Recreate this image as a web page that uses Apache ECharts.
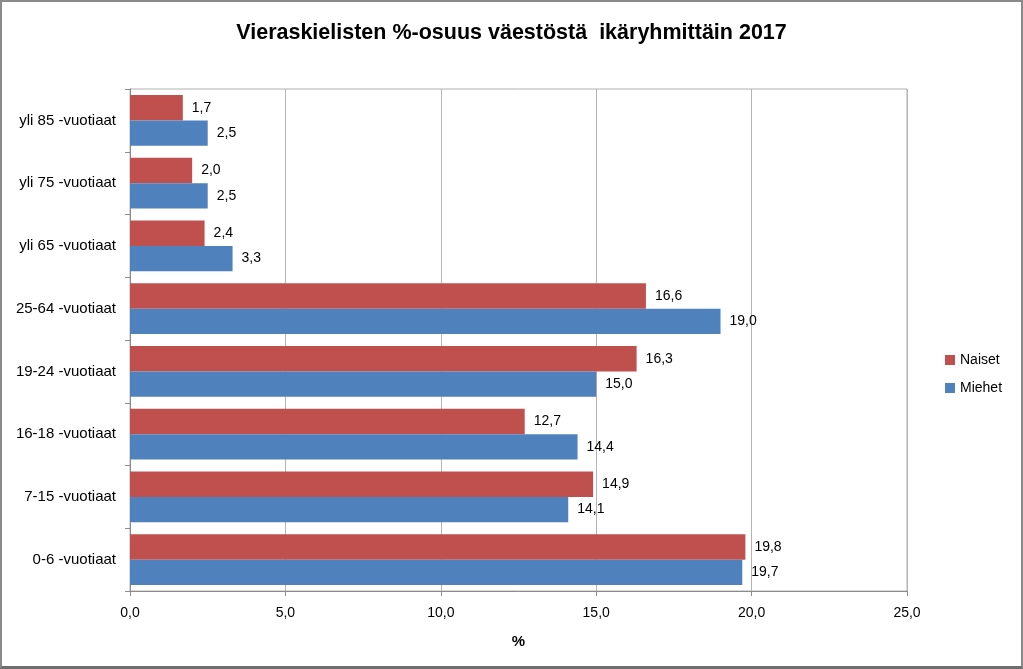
<!DOCTYPE html>
<html><head><meta charset="utf-8">
<script src="https://cdn.jsdelivr.net/npm/echarts@6/dist/echarts.min.js"></script>
<style>
html,body{margin:0;padding:0;background:#fff;}
#frame{position:absolute;left:0;top:0;width:1019px;height:664px;border:2px solid #8a8a8a;border-bottom:3px solid #6e6e6e;box-sizing:content-box;}
#c{position:absolute;left:0;top:0;width:1023px;height:669px;}
</style></head>
<body>
<div id="frame"></div>
<div id="c"></div>
<script>
const categories = ['0-6 -vuotiaat','7-15 -vuotiaat','16-18 -vuotiaat','19-24 -vuotiaat','25-64 -vuotiaat','yli 65 -vuotiaat','yli 75 -vuotiaat','yli 85 -vuotiaat'];
const naiset = [19.8, 14.9, 12.7, 16.3, 16.6, 2.4, 2.0, 1.7];
const miehet = [19.7, 14.1, 14.4, 15.0, 19.0, 3.3, 2.5, 2.5];
const titleText = 'Vieraskielisten %-osuus väestöstä  ikäryhmittäin 2017';

const fmt = v => Number(v).toFixed(1).replace('.', ',');
const FONT = '"Liberation Sans", Arial, sans-serif';
const chart = echarts.init(document.getElementById('c'));
chart.setOption({
  animation: false,
  backgroundColor: 'transparent',
  title: {
    text: titleText, left: 'center', top: 17,
    textStyle: {fontFamily: FONT, fontSize: 21.5, fontWeight: 'bold', color: '#000'}
  },
  legend: {
    data: ['Naiset', 'Miehet'], orient: 'vertical', left: 940, top: 348,
    itemWidth: 10, itemHeight: 10, itemGap: 14, icon: 'rect',
    textStyle: {fontFamily: FONT, fontSize: 14, color: '#000'}
  },
  grid: {left: 130, right: 116, top: 89, bottom: 78, show: true, borderColor: '#b0b0b0', borderWidth: 1},
  xAxis: {
    type: 'value', min: 0, max: 25, interval: 5,
    name: '%', nameLocation: 'middle', nameGap: 43,
    nameTextStyle: {fontFamily: FONT, fontSize: 15, fontWeight: 'bold', color: '#000'},
    axisLine: {show: true, lineStyle: {color: '#8c8c8c'}},
    axisTick: {show: true, length: 5, lineStyle: {color: '#8c8c8c'}},
    axisLabel: {formatter: fmt, fontFamily: FONT, fontSize: 14, color: '#000', margin: 15},
    splitLine: {show: true, lineStyle: {color: '#b4b4b4'}}
  },
  yAxis: {
    type: 'category', data: categories,
    axisLine: {show: true, lineStyle: {color: '#8c8c8c'}},
    axisTick: {show: true, length: 5, lineStyle: {color: '#8c8c8c'}},
    axisLabel: {fontFamily: FONT, fontSize: 15, color: '#000', margin: 14}
  },
  series: [
    {name: 'Naiset', type: 'bar', data: naiset, barGap: '0%', barCategoryGap: '19%',
     itemStyle: {color: '#C0504D'},
     label: {show: true, position: 'right', distance: 9, formatter: p => fmt(p.value), fontFamily: FONT, fontSize: 14, color: '#000'}},
    {name: 'Miehet', type: 'bar', data: miehet, barGap: '0%', barCategoryGap: '19%',
     itemStyle: {color: '#4F81BD'},
     label: {show: true, position: 'right', distance: 9, formatter: p => fmt(p.value), fontFamily: FONT, fontSize: 14, color: '#000'}}
  ]
});
</script>
</body></html>
